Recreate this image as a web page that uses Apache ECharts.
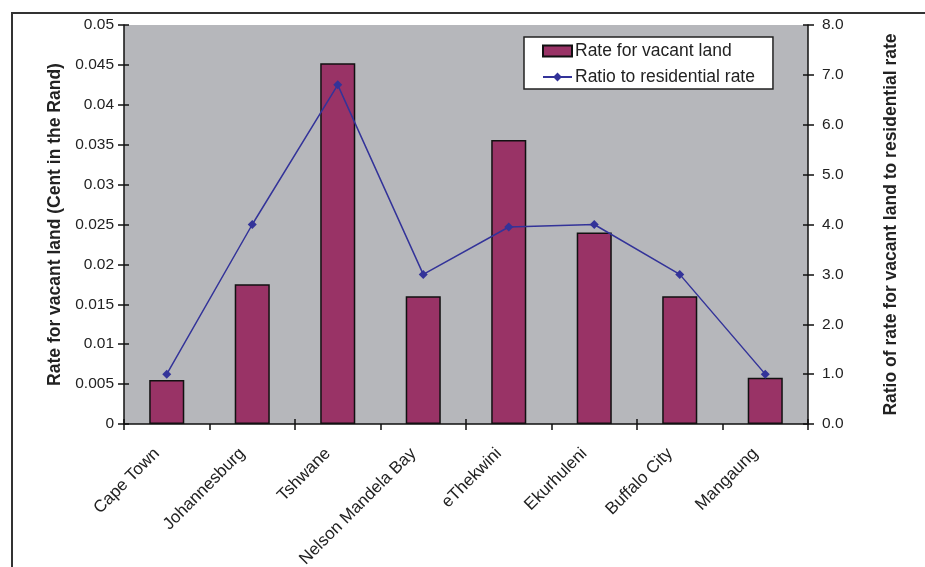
<!DOCTYPE html>
<html>
<head>
<meta charset="utf-8">
<script src="https://cdn.jsdelivr.net/npm/echarts@6/dist/echarts.min.js"></script>
<style>
  html, body { margin: 0; padding: 0; background: #fff; }
  #chart { width: 925px; height: 567px; }
</style>
</head>
<body>
<div id="chart"></div>
<script>
// Metropolitan municipalities
const municipalities = ['Cape Town', 'Johannesburg', 'Tshwane', 'Nelson Mandela Bay',
  'eThekwini', 'Ekurhuleni', 'Buffalo City', 'Mangaung'];

// Rate for vacant land (cent in the Rand)
const vacantRate = [0.0055, 0.0175, 0.0452, 0.016, 0.0356, 0.024, 0.016, 0.0058];

// Ratio of vacant-land rate to residential rate
const ratioToResidential = [1.0, 4.0, 6.8, 3.0, 3.95, 4.0, 3.0, 1.0];

const textColor = '#222';
const font = 'Liberation Sans, Arial, sans-serif';
const axisColor = '#111';

// Tick marks that cross the axis line: an outside tick on the main axis
// plus an inside tick on an unlabeled twin axis at the same spot.
const innerTick = { show: true, inside: true, length: 5, lineStyle: { color: axisColor, width: 1.5 } };
const outerTick = { show: true, length: 6, lineStyle: { color: axisColor, width: 1.5 } };

const chart = echarts.init(document.getElementById('chart'), null, { renderer: 'canvas' });

chart.setOption({
  animation: false,
  textStyle: { fontFamily: font, color: textColor },
  graphic: [{
    type: 'rect',
    shape: { x: 12, y: 13, width: 1000, height: 700 },
    style: { fill: 'none', stroke: '#333', lineWidth: 2 },
    z: -10
  }],
  grid: {
    left: 124, right: 117, top: 25, bottom: 143,
    outerBoundsMode: 'none',
    containLabel: false,
    show: true, backgroundColor: '#b6b7bb', borderWidth: 0
  },
  legend: {
    orient: 'vertical',
    left: 524, top: 37,
    backgroundColor: '#fff',
    borderColor: '#222', borderWidth: 1.5,
    padding: [5, 18, 3, 18],
    itemWidth: 29, itemHeight: 11, itemGap: 8,
    textStyle: { fontSize: 17.5, color: textColor, fontFamily: font, padding: [0, 0, 0, -2] },
    data: [
      { name: 'Rate for vacant land', icon: 'rect' },
      { name: 'Ratio to residential rate' }
    ]
  },
  xAxis: [{
    type: 'category',
    data: municipalities,
    boundaryGap: true,
    axisLine: { lineStyle: { color: axisColor, width: 1.5 } },
    axisTick: outerTick,
    axisLabel: { rotate: 45, fontSize: 17, color: textColor, margin: 17, interval: 0, padding: [0, 14, 0, 0] }
  }, {
    type: 'category',
    data: municipalities,
    boundaryGap: true,
    position: 'bottom',
    axisLine: { show: false },
    axisTick: innerTick,
    axisLabel: { show: false }
  }],
  yAxis: [{
    type: 'value',
    min: 0, max: 0.05, interval: 0.005,
    name: 'Rate for vacant land (Cent in the Rand)',
    nameLocation: 'middle', nameGap: 60, nameRotate: 90,
    nameTextStyle: { fontSize: 17.5, fontWeight: 'bold', color: textColor },
    axisLine: { show: true, lineStyle: { color: axisColor, width: 1.5 } },
    axisTick: outerTick,
    axisLabel: { fontSize: 15.5, color: textColor, margin: 10 },
    splitLine: { show: false }
  }, {
    type: 'value',
    min: 0, max: 8, interval: 1,
    position: 'right',
    name: 'Ratio of rate for vacant land to residential rate',
    nameLocation: 'middle', nameGap: 74, nameRotate: 90,
    nameTextStyle: { fontSize: 17.5, fontWeight: 'bold', color: textColor },
    axisLine: { show: true, lineStyle: { color: axisColor, width: 1.5 } },
    axisTick: outerTick,
    axisLabel: { fontSize: 15.5, color: textColor, margin: 14, formatter: v => v.toFixed(1) },
    splitLine: { show: false }
  }, {
    type: 'value',
    min: 0, max: 0.05, interval: 0.005,
    position: 'left',
    axisLine: { show: false },
    axisTick: innerTick,
    axisLabel: { show: false },
    splitLine: { show: false }
  }, {
    type: 'value',
    min: 0, max: 8, interval: 1,
    position: 'right',
    axisLine: { show: false },
    axisTick: innerTick,
    axisLabel: { show: false },
    splitLine: { show: false }
  }],
  series: [{
    name: 'Rate for vacant land',
    type: 'bar',
    xAxisIndex: 0,
    yAxisIndex: 0,
    data: vacantRate,
    barWidth: '41%',
    itemStyle: { color: '#993366', borderColor: '#111', borderWidth: 1.5 }
  }, {
    name: 'Ratio to residential rate',
    type: 'line',
    xAxisIndex: 0,
    yAxisIndex: 1,
    data: ratioToResidential,
    symbol: 'diamond', symbolSize: 9,
    lineStyle: { color: '#333399', width: 1.5 },
    itemStyle: { color: '#333399' },
    z: 5
  }]
});
</script>
</body>
</html>
